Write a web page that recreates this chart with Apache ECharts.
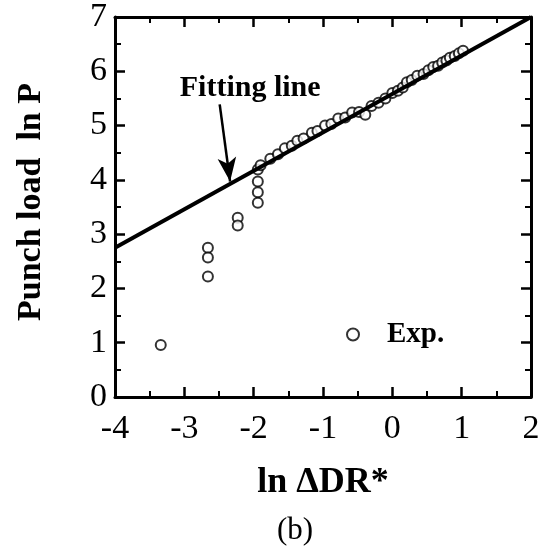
<!DOCTYPE html>
<html>
<head>
<meta charset="utf-8">
<script src="https://cdn.jsdelivr.net/npm/echarts@6/dist/echarts.min.js"></script>
<style>
  html, body { margin: 0; padding: 0; background: #fff; }
  #chart { width: 551px; height: 547px; }
</style>
</head>
<body>
<div id="chart"></div>
<script>
  // experimental points (ln dDR*, ln P)
  var expX = [-3.34, -2.66, -2.66, -2.66, -2.23, -2.23, -1.94, -1.94, -1.94, -1.94,
    -1.9, -1.76, -1.65, -1.55, -1.45, -1.37, -1.28, -1.16, -1.08, -0.97, -0.88, -0.78,
    -0.68, -0.58, -0.48, -0.39, -0.3, -0.2, -0.1, 0.0, 0.08, 0.15, 0.21, 0.28, 0.36,
    0.45, 0.52, 0.59, 0.66, 0.72, 0.78, 0.83, 0.9, 0.96, 1.02];
  var expY = [0.96, 2.75, 2.57, 2.22, 3.3, 3.16, 4.19, 3.97, 3.77, 3.58,
    4.27, 4.39, 4.47, 4.58, 4.63, 4.72, 4.76, 4.87, 4.9, 5.0, 5.03, 5.13,
    5.15, 5.24, 5.25, 5.2, 5.36, 5.42, 5.5, 5.6, 5.64, 5.7, 5.8, 5.84, 5.92,
    5.95, 6.02, 6.08, 6.1, 6.16, 6.2, 6.25, 6.28, 6.33, 6.38];
  // fitting line end points
  var fitX = [-4, 2];
  var fitY = [2.75, 7];
  // arrow from the "Fitting line" text down to the line
  var arrowFrom = [-2.49, 5.39];
  var arrowTo = [-2.34, 3.97];
  var labelAt = [-2.05, 5.68];

  var font = 'Liberation Serif';

  var expData = expX.map(function (x, i) { return [x, expY[i]]; });
  var fitData = fitX.map(function (x, i) { return [x, fitY[i]]; });

  function axis(showLabel, extra) {
    var a = {
      type: 'value',
      axisLine: { show: true, onZero: false, lineStyle: { color: '#000', width: 3 } },
      axisTick: { show: true, inside: true, length: 10, lineStyle: { color: '#000', width: 2.5 } },
      minorTick: { show: true, splitNumber: 2, length: 6, lineStyle: { color: '#000', width: 2 } },
      splitLine: { show: false },
      axisLabel: { show: showLabel, color: '#000', fontFamily: font, fontSize: 34 }
    };
    return Object.assign(a, extra);
  }

  var chart = echarts.init(document.getElementById('chart'));
  chart.setOption({
    animation: false,
    backgroundColor: '#fff',
    grid: { left: 115, right: 20, top: 16, bottom: 150 },
    title: {
      text: '(b)',
      left: 277,
      top: 515,
      padding: 0,
      textStyle: { fontFamily: font, fontSize: 31, fontWeight: 'normal', color: '#000' }
    },
    legend: {
      left: 341,
      top: 315,
      itemWidth: 12,
      itemHeight: 12,
      itemStyle: { borderWidth: 3 },
      textStyle: { fontFamily: font, fontSize: 29, fontWeight: 'bold', color: '#000', padding: [0, 0, 0, 23] },
      data: [{ name: 'Exp.', icon: 'emptyCircle' }]
    },
    xAxis: [
      axis(true, {
        position: 'bottom', min: -4, max: 2, interval: 1,
        name: 'ln ΔDR*', nameLocation: 'middle', nameGap: 68,
        nameTextStyle: { fontFamily: font, fontSize: 36, fontWeight: 'bold', color: '#000' },
        axisLabel: { show: true, color: '#000', fontFamily: font, fontSize: 34, margin: 15 }
      }),
      axis(false, { position: 'top', min: -4, max: 2, interval: 1 })
    ],
    yAxis: [
      axis(true, {
        position: 'left', min: 0, max: 7, interval: 1,
        name: 'Punch load  ln P', nameLocation: 'middle', nameGap: 67,
        nameTextStyle: { fontFamily: font, fontSize: 34, fontWeight: 'bold', color: '#000', padding: [0, 0, 0, 10] }
      }),
      axis(false, { position: 'right', min: 0, max: 7, interval: 1 })
    ],
    series: [
      {
        name: 'Fitting line',
        type: 'line',
        data: fitData,
        symbol: 'none',
        lineStyle: { color: '#000', width: 4 },
        markLine: {
          silent: true,
          symbol: ['none', 'arrow'],
          symbolSize: [14, 24],
          label: { show: false },
          lineStyle: { color: '#000', width: 2.5, type: 'solid' },
          data: [[{ coord: arrowFrom }, { coord: arrowTo }]]
        },
        markPoint: {
          silent: true,
          symbol: 'circle',
          symbolSize: 0,
          label: {
            show: true, position: 'inside', formatter: 'Fitting line',
            fontFamily: font, fontSize: 30, fontWeight: 'bold', color: '#000'
          },
          data: [{ coord: labelAt }]
        }
      },
      {
        name: 'Exp.',
        type: 'scatter',
        data: expData,
        symbol: 'emptyCircle',
        symbolSize: 10,
        itemStyle: { color: '#000', borderColor: '#000', borderWidth: 3 }
      }
    ]
  });
</script>
</body>
</html>
